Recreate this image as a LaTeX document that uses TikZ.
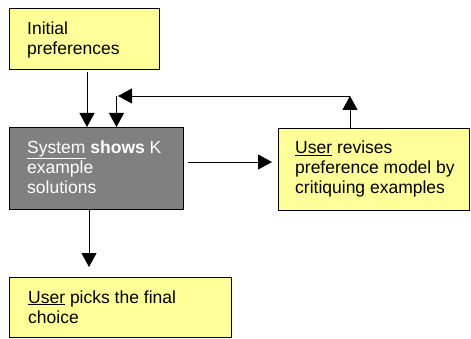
\documentclass[tikz,border=0pt]{standalone}
\definecolor{noteyellow}{RGB}{255, 255, 153}
\definecolor{sysgray}{RGB}{128, 128, 128}
\usepackage{fontspec}
\setmainfont{Liberation Sans}
\usepackage{tikz}
\usetikzlibrary{arrows.meta, positioning}

\tikzset{
  stepbox/.style={draw=black, line width=0.9pt, outer sep=0pt, inner sep=0pt, anchor=north west},
  boxtext/.style={inner sep=0pt, align=left, font=\fontsize{17.5}{20}\selectfont},
  flow/.style={line width=0.9pt, -{Triangle[width=15pt, length=14pt]}}
}

\begin{document}
\begin{tikzpicture}[x=1pt, y=-1pt]
  \useasboundingbox (0, 0) rectangle (471, 339);

  % Boxes
  \node[stepbox, fill=noteyellow, minimum width=150pt, minimum height=61pt] (init) at (9, 8) {};
  \node[boxtext, below right=13.2pt and 18pt of init.north west] (init-txt) {Initial\\preferences};

  \node[stepbox, fill=sysgray, minimum width=174pt, minimum height=82pt] (show) at (9, 127) {};
  \node[boxtext, text=white, below right=13.2pt and 18pt of show.north west] (show-txt) {\underline{System} \textbf{shows} K\\example\\solutions};

  \node[stepbox, fill=noteyellow, minimum width=191pt, minimum height=82pt] (revise) at (278, 128) {};
  \node[boxtext, below right=12.5pt and 17pt of revise.north west] (revise-txt) {\underline{User} revises\\preference model by\\critiquing examples};

  \node[stepbox, fill=noteyellow, minimum width=222pt, minimum height=60pt] (pick) at (9, 277) {};
  \node[boxtext, below right=13.2pt and 19pt of pick.north west] (pick-txt) {\underline{User} picks the final\\choice};

  % Connectors
  \coordinate (loop-r) at (350, 96);
  \coordinate (loop-l) at (118, 96);
  \coordinate (loop-d) at (116.5, 96);

  \draw[flow, shorten <=3pt] ([xshift=3pt]init.south) -- ([xshift=-9pt]show.north);
  \draw[flow, shorten >=6pt, shorten <=5pt] ([yshift=6pt]show.east) -- ([yshift=7pt]revise.west);
  \draw[flow] (revise.north -| loop-r) -- (loop-r);
  \draw[flow] (loop-r) -- (loop-l);
  \draw[flow] (loop-d) -- (loop-d |- show.north);
  \draw[flow, shorten >=10pt] ([xshift=-7pt]show.south) -- ([xshift=-7pt]show.south |- pick.north);
\end{tikzpicture}
\end{document}
